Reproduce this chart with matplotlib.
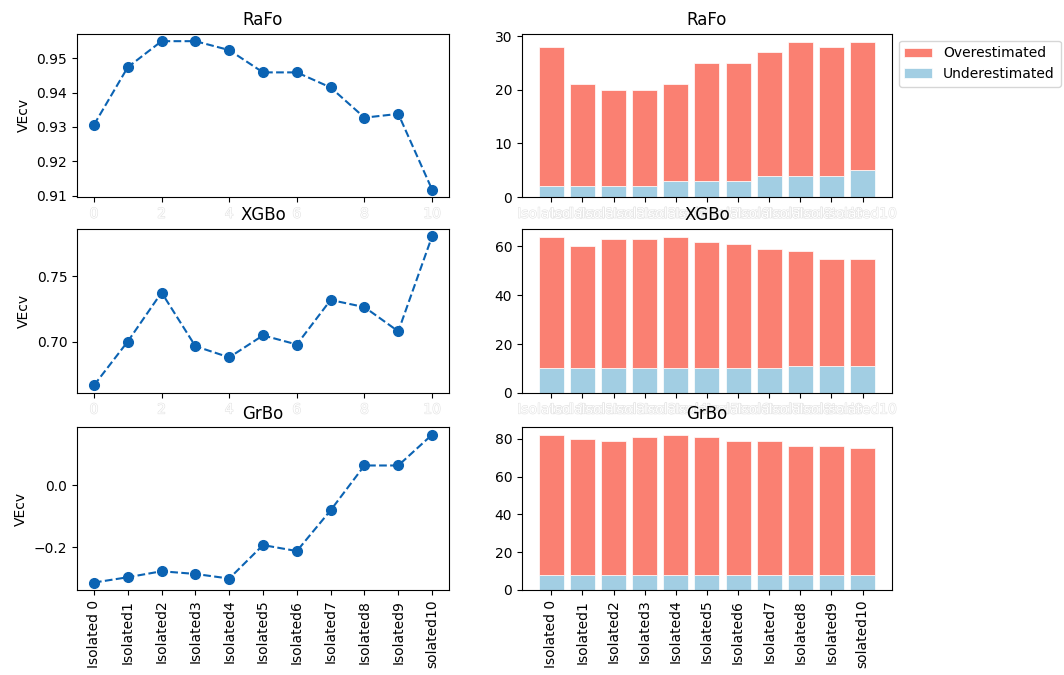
import numpy as np
import matplotlib
matplotlib.use('Agg')
import matplotlib.pyplot as plt
import matplotlib.patheffects as pe

# Дані
models = ['RaFo', 'XGBo', 'GrBo']
labels = ['Isolated 0', 'Isolated1', 'Isolated2', 'Isolated3', 'Isolated4', 'Isolated5',
          'Isolated6', 'Isolated7', 'Isolated8', 'Isolated9', 'solated10']

vecv_rafo = [0.9306, 0.9474, 0.955, 0.955, 0.9524, 0.9459, 0.9459, 0.9415, 0.9327, 0.9338, 0.9117]
vecv_xgbo = [0.6663, 0.700, 0.7376, 0.6964, 0.6878, 0.7047, 0.6977, 0.7319, 0.7264, 0.7078, 0.7808]
vecv_grbo = [-0.3134, -0.2963, -0.277, -0.2856, -0.3005, -0.1925, -0.2118, -0.0802, 0.0642, 0.0642, 0.1636]

under_rafo = [2, 2, 2, 2, 3, 3, 3, 4, 4, 4, 5]
over_rafo = [26, 19, 18, 18, 18, 22, 22, 23, 25, 24, 24]
under_xgbo = [10, 10, 10, 10, 10, 10, 10, 10, 11, 11, 11]
over_xgbo = [54, 50, 53, 53, 54, 52, 51, 49, 47, 44, 44]
under_grbo = [8, 8, 8, 8, 8, 8, 8, 8, 8, 8, 8]
over_grbo = [74, 72, 71, 73, 74, 73, 71, 71, 68, 68, 67]

vecv = [vecv_rafo, vecv_xgbo, vecv_grbo]
under = [under_rafo, under_xgbo, under_grbo]
over = [over_rafo, over_xgbo, over_grbo]

line_color = '#0b63b3'
over_color = 'salmon'
under_color = '#a2cee3'

fig = plt.figure(figsize=(10.64, 6.75), dpi=100)

rows = [(0.708, 0.950), (0.418, 0.661), (0.126, 0.367)]
x = np.arange(len(labels))
# білі підписи з ледь помітним контуром
ghost = [pe.withStroke(linewidth=0.8, foreground='#e2e2e2')]

for i, (b, t) in enumerate(rows):
    ax1 = fig.add_axes([0.0724, b, 0.3496, t - b])
    ax2 = fig.add_axes([0.4906, b, 0.3476, t - b])

    ax1.plot(x, vecv[i], linestyle='--', marker='o', color=line_color, markersize=7)
    ax1.set_title(models[i])
    ax1.set_ylabel('VEcv')

    ax2.bar(x, under[i], color=under_color, edgecolor='white', linewidth=0.5, label='Underestimated')
    ax2.bar(x, over[i], bottom=under[i], color=over_color, edgecolor='white', linewidth=0.5,
            label='Overestimated')
    ax2.set_title(models[i])
    ax2.set_xticks(x)

    if i < 2:
        ax2.set_xticklabels(labels)
        for lab in ax1.get_xticklabels() + ax2.get_xticklabels():
            lab.set_color('white')
            lab.set_path_effects(ghost)
    else:
        ax1.set_xticks(x)
        ax1.set_xticklabels(labels, rotation=90)
        ax2.set_xticklabels(labels, rotation=90)

    if i == 0:
        h, l = ax2.get_legend_handles_labels()
        ax2.legend(h[::-1], l[::-1], loc='upper left', bbox_to_anchor=(1.0, 1.0))

fig.savefig('out.png', dpi=100)
